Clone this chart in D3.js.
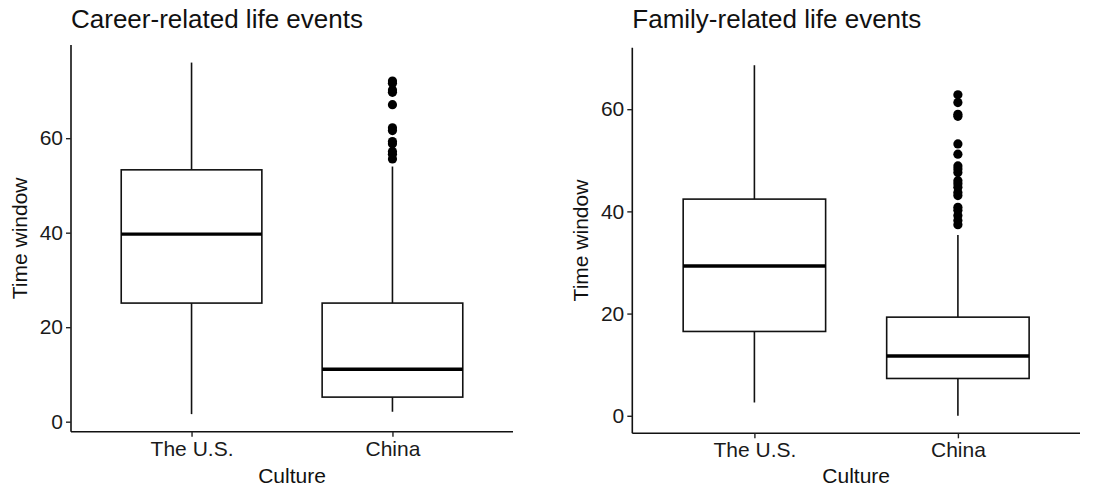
<!DOCTYPE html>
<html>
<head>
<meta charset="utf-8">
<script src="https://cdn.jsdelivr.net/npm/d3@7"></script>
<style>
  body { margin: 0; background: #fff; }
  svg text { font-family: "Liberation Sans", Arial, sans-serif; }
</style>
</head>
<body>
<div id="chart"></div>
<script>
// categories on the x axis
var cultures = ["The U.S.", "China"];
var yTicks = [0, 20, 40, 60];

// career-related: five-number summary per culture (whisker ends, quartiles, median)
var careerLow = [1.6, 2.1];
var careerQ1 = [25.1, 5.2];
var careerMedian = [39.7, 11.1];
var careerQ3 = [53.3, 25.1];
var careerHigh = [76, 54];
var careerOutliersUS = [];
var careerOutliersChina = [72.1, 71.6, 70.2, 69.7, 67.1, 62.2, 61.6, 59.3, 58.8, 57.2, 56.6, 55.6];

// family-related
var familyLow = [2.6, 0];
var familyQ1 = [16.5, 7.3];
var familyMedian = [29.3, 11.7];
var familyQ3 = [42.4, 19.3];
var familyHigh = [68.6, 35.4];
var familyOutliersUS = [];
var familyOutliersChina = [62.8, 61.3, 59.0, 58.6, 53.2, 51.2, 48.9, 48.3, 47.6, 46.0, 45.4, 44.7, 43.7, 43.1, 40.8, 40.2, 39.2, 38.2, 37.4];

var width = 1094, height = 490;

var svg = d3.select("#chart").append("svg")
    .attr("width", width)
    .attr("height", height);

function drawPanel(p) {
    var boxes = cultures.map(function (c, i) {
        return { name: c, low: p.low[i], q1: p.q1[i], med: p.median[i], q3: p.q3[i], high: p.high[i], out: p.outliers[i] };
    });

    // ggplot-like 5% expansion of the data range
    var all = [];
    boxes.forEach(function (b) { all.push(b.low, b.high); all = all.concat(b.out); });
    var lo = d3.min(all), hi = d3.max(all), pad = (hi - lo) * 0.05;

    var y = d3.scaleLinear().domain([lo - pad, hi + pad]).range([p.bottom, p.top]);
    // discrete scale with 0.6 expansion each side
    var x = d3.scaleLinear().domain([0.4, cultures.length + 0.6]).range([p.left, p.right]);
    var bw = 0.7;

    var g = svg.append("g");

    boxes.forEach(function (b, i) {
        var cx = x(i + 1);
        var x0 = x(i + 1 - bw / 2), x1 = x(i + 1 + bw / 2);

        g.append("line") // upper whisker
            .attr("x1", cx).attr("x2", cx)
            .attr("y1", y(b.q3)).attr("y2", y(b.high))
            .style("stroke", "#111").style("stroke-width", 1.6);
        g.append("line") // lower whisker
            .attr("x1", cx).attr("x2", cx)
            .attr("y1", y(b.q1)).attr("y2", y(b.low))
            .style("stroke", "#111").style("stroke-width", 1.6);

        g.append("rect")
            .attr("x", x0).attr("y", y(b.q3))
            .attr("width", x1 - x0).attr("height", y(b.q1) - y(b.q3))
            .style("fill", "#fff").style("stroke", "#111").style("stroke-width", 1.6);

        g.append("line") // median
            .attr("x1", x0).attr("x2", x1)
            .attr("y1", y(b.med)).attr("y2", y(b.med))
            .style("stroke", "#000").style("stroke-width", 3.4);

        g.selectAll(null).data(b.out).enter().append("circle")
            .attr("cx", cx).attr("cy", function (d) { return y(d); })
            .attr("r", 4.6)
            .style("fill", "#000");
    });

    // axes
    var ya = svg.append("g")
        .attr("transform", "translate(" + p.left + ",0)")
        .call(d3.axisLeft(y).tickValues(yTicks).tickSize(5).tickPadding(3));
    ya.select(".domain").attr("d", "M0," + p.top + "V" + p.bottom);

    var xa = svg.append("g")
        .attr("transform", "translate(0," + p.bottom + ")")
        .call(d3.axisBottom(x).tickValues(d3.range(1, cultures.length + 1))
            .tickFormat(function (d) { return cultures[d - 1]; })
            .tickSize(5).tickPadding(4));
    xa.select(".domain").attr("d", "M" + p.left + ",0H" + p.right);

    [ya, xa].forEach(function (a) {
        a.select(".domain").style("stroke", "#111").style("stroke-width", 1.6);
        a.selectAll(".tick line").style("stroke", "#222").style("stroke-width", 1.4);
        a.selectAll(".tick text").style("font-size", "21px").style("fill", "#1a1a1a");
    });

    svg.append("text")
        .attr("x", p.left)
        .attr("y", 28)
        .style("font-size", "26px")
        .style("fill", "#111")
        .text(p.title);

    svg.append("text")
        .attr("x", (p.left + p.right) / 2)
        .attr("y", 483)
        .attr("text-anchor", "middle")
        .style("font-size", "21px")
        .style("fill", "#111")
        .text("Culture");

    svg.append("text")
        .attr("transform", "translate(" + (p.left - 44) + "," + ((p.top + p.bottom) / 2) + ") rotate(-90)")
        .attr("text-anchor", "middle")
        .style("font-size", "21px")
        .style("fill", "#111")
        .text("Time window");
}

drawPanel({
    title: "Career-related life events",
    left: 71, right: 513, top: 45, bottom: 431.7,
    low: careerLow, q1: careerQ1, median: careerMedian, q3: careerQ3, high: careerHigh,
    outliers: [careerOutliersUS, careerOutliersChina]
});

drawPanel({
    title: "Family-related life events",
    left: 632.3, right: 1080, top: 47.7, bottom: 433.3,
    low: familyLow, q1: familyQ1, median: familyMedian, q3: familyQ3, high: familyHigh,
    outliers: [familyOutliersUS, familyOutliersChina]
});
</script>
</body>
</html>
